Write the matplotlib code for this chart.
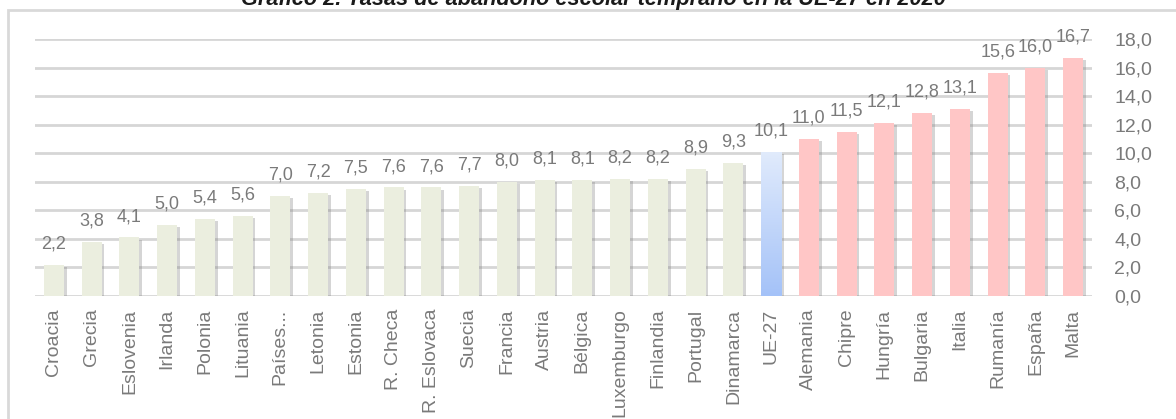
import numpy as np
import matplotlib; matplotlib.use("Agg")
import matplotlib.pyplot as plt
import matplotlib.patheffects as pe
from matplotlib.patches import Rectangle

plt.rcParams['font.family'] = ['Liberation Sans', 'DejaVu Sans']

# ── datos ──
paises = ["Croacia", "Grecia", "Eslovenia", "Irlanda", "Polonia", "Lituania", "Países...",
          "Letonia", "Estonia", "R. Checa", "R. Eslovaca", "Suecia", "Francia", "Austria",
          "Bélgica", "Luxemburgo", "Finlandia", "Portugal", "Dinamarca", "UE-27",
          "Alemania", "Chipre", "Hungría", "Bulgaria", "Italia", "Rumanía", "España", "Malta"]
tasas = [2.2, 3.8, 4.1, 5.0, 5.4, 5.6, 7.0, 7.2, 7.5, 7.6, 7.6, 7.7, 8.0, 8.1, 8.1, 8.2,
         8.2, 8.9, 9.3, 10.1, 11.0, 11.5, 12.1, 12.8, 13.1, 15.6, 16.0, 16.7]
grupo = ["bajo"] * 19 + ["ue"] + ["alto"] * 8
yticks = [0, 2, 4, 6, 8, 10, 12, 14, 16, 18]
titulo = "Gráfico 2. Tasas de abandono escolar temprano en la UE-27 en 2020"

colores = {"bajo": "#ebeedf", "ue": "#c8d9fa", "alto": "#ffc6c6"}
GRIS = "#7a7a7a"

fig = plt.figure(figsize=(11.76, 4.19), dpi=100)
ax = fig.add_axes([35/1176, 1-296/419, (1092-35)/1176, (296-39)/419])

# marco exterior (sigue fuera de la imagen por abajo y a la derecha)
fig.patches.append(Rectangle((8/1176, -0.1), 1.2, 1.1-10/419, transform=fig.transFigure,
                             fill=False, ec="#d9d9d9", lw=2))

x = np.arange(len(paises))
sombra = [pe.withSimplePatchShadow(offset=(2, -1.5), shadow_rgbFace="#777777", alpha=0.3)]
bars = ax.bar(x, tasas, width=0.53, color=[colores[g] for g in grupo], zorder=3,
              path_effects=sombra)

# degradado azul para UE-27
cmap = matplotlib.colors.LinearSegmentedColormap.from_list("ue", ["#a4c2f8", "#e1ebfc"])
for b, g in zip(bars, grupo):
    if g == "ue":
        grad = np.linspace(0, 1, 256).reshape(-1, 1)
        im = ax.imshow(grad, cmap=cmap, origin="lower", aspect="auto", zorder=4,
                       extent=(b.get_x(), b.get_x()+b.get_width(), 0, b.get_height()))
        im.set_clip_path(b)

for xi, v in zip(x, tasas):
    ax.text(xi, v + 1.15, f"{v:.1f}".replace(".", ","), ha="center", va="baseline",
            fontsize=13, color=GRIS, zorder=5)

ax.set_xlim(-0.5, len(paises)-0.5)
ax.set_ylim(0, 18)
ax.set_yticks(yticks)
ax.set_yticklabels([f"{t:.1f}".replace(".", ",") for t in yticks])
ax.yaxis.tick_right()
ax.tick_params(axis="y", length=0, pad=16, labelsize=14, labelcolor=GRIS)
ax.set_xticks(x)
ax.set_xticklabels(paises, rotation=90)
ax.tick_params(axis="x", length=0, pad=9, labelsize=14, labelcolor=GRIS)
ax.grid(axis="y", color="#d6d6d6", lw=2, zorder=0)
for s in ax.spines.values():
    s.set_visible(False)

fig.text(0.505, 1-5/419, titulo, ha="center", va="baseline", fontsize=15.7,
         fontweight="bold", fontstyle="italic", color="#1a1a1a")

fig.savefig("out.png", dpi=100)
